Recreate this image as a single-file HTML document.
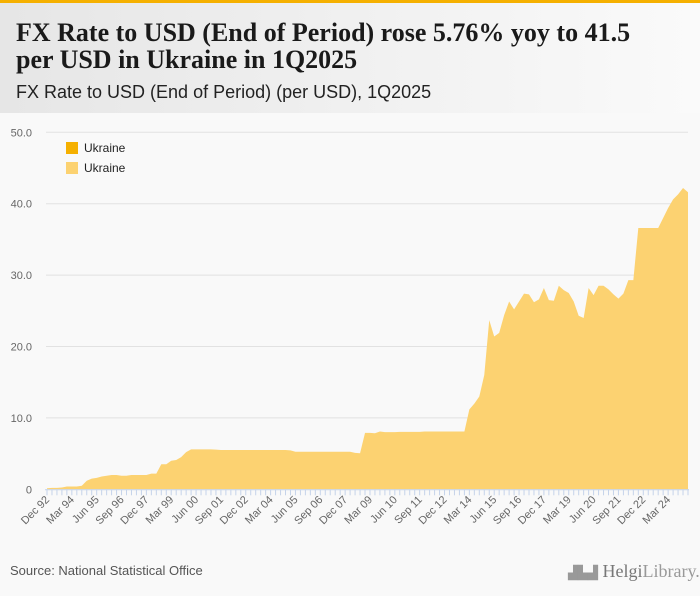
<!DOCTYPE html>
<html><head><meta charset="utf-8"><style>
body{margin:0;width:700px;height:596px;overflow:hidden;background:#f9f9f9;font-family:"Liberation Sans",sans-serif;}
#hdr{position:absolute;left:0;top:0;width:700px;height:113px;background:linear-gradient(90deg,#e6e6e6,#fafafa);border-top:3px solid #f5b000;box-sizing:border-box;}
#title{position:absolute;left:16px;top:16px;font-family:"Liberation Serif",serif;font-weight:bold;font-size:26px;line-height:27px;color:#1a1a1a;white-space:nowrap;}
#sub{position:absolute;left:16px;top:79px;font-size:18px;color:#222;white-space:nowrap;}
#src{position:absolute;left:10px;top:563px;font-size:13px;color:#555;}
#logo{position:absolute;left:568px;top:561px;font-family:"Liberation Serif",serif;font-size:18px;color:#999;white-space:nowrap;}
</style></head><body>
<div id="hdr">
<div id="title">FX Rate to USD (End of Period) rose 5.76% yoy to 41.5<br>per USD in Ukraine in 1Q2025</div>
<div id="sub">FX Rate to USD (End of Period) (per USD), 1Q2025</div>
</div>
<svg id="chart" width="700" height="596" style="position:absolute;left:0;top:0"></svg>
<div id="src">Source: National Statistical Office</div>
<div id="logo"><span style="font-size:13px;font-family:'DejaVu Sans',sans-serif">▟▙▟</span> <span style="color:#777">Helgi</span>Library.</div>
<script>
const values=[0.15,0.2,0.2,0.25,0.4,0.4,0.4,0.5,1.2,1.5,1.6,1.8,1.9,2.0,2.0,1.9,1.9,2.0,2.0,2.0,
2.0,2.2,2.2,3.5,3.5,4.0,4.1,4.5,5.2,5.6,5.6,5.6,5.6,5.6,5.55,5.5,5.5,5.5,5.5,5.5,
5.5,5.5,5.5,5.5,5.5,5.5,5.5,5.5,5.5,5.45,5.25,5.25,5.25,5.25,5.25,5.25,5.25,5.25,5.25,5.25,
5.25,5.25,5.1,5.05,7.9,7.9,7.85,8.1,8.0,8.0,8.0,8.05,8.05,8.05,8.05,8.05,8.1,8.1,8.1,8.1,
8.1,8.1,8.1,8.1,8.1,11.2,12.0,13.0,16.0,23.7,21.4,21.9,24.4,26.3,25.2,26.3,27.4,27.3,26.2,26.6,
28.2,26.5,26.4,28.5,27.9,27.5,26.3,24.3,24.0,28.2,27.2,28.5,28.5,28.0,27.3,26.7,27.4,29.3,29.3,36.6,
36.6,36.6,36.6,36.6,38.0,39.4,40.6,41.3,42.2,41.6];
const yTicks=[0,10,20,30,40,50];
const yTickLabels=["0","10.0","20.0","30.0","40.0","50.0"];
const months=["Mar","Jun","Sep","Dec"];
const NS="http://www.w3.org/2000/svg";
const svg=document.getElementById('chart');
const x0=47,x1=688,y0=489.3,y50=132.3;
const n=values.length;
const X=i=>x0+i*(x1-x0)/(n-1);
const Y=v=>y0+(y50-y0)*v/50;
function mk(t,a){const e=document.createElementNS(NS,t);for(const k in a)e.setAttribute(k,a[k]);svg.appendChild(e);return e;}
yTicks.forEach((t,k)=>{
 if(t>0){const g=mk('line',{x1:46,x2:688,y1:Y(t),y2:Y(t),stroke:'#e2e2e2','stroke-width':1});
 
 }
 const tx=mk('text',{x:32,y:Y(t)+4,'text-anchor':'end','font-size':11,fill:'#666','font-family':'Liberation Sans, sans-serif'});
 tx.textContent=yTickLabels[k];
 
 
});
let d='M'+X(0)+','+Y(0);
values.forEach((v,i)=>{d+=' L'+X(i).toFixed(2)+','+Y(v).toFixed(2);});
d+=' L'+X(n-1)+','+Y(0)+' Z';
const area=mk('path',{d:d,fill:'#fcd271'});


const ax=mk('line',{x1:45,x2:689,y1:y0+0.5,y2:y0+0.5,stroke:'#c5d3ea','stroke-width':1});


for(let i=0;i<n;i++){
 const tk=mk('line',{x1:X(i),x2:X(i),y1:y0,y2:y0+6,stroke:'#c5d3ea','stroke-width':1});
 
 
 if(i%5===0){
  const q=(3+i)%4, yr=(1992+Math.floor((i+3)/4))%100;
  const lab=months[q]+' '+String(yr).padStart(2,'0');
  const tx=mk('text',{x:X(i)+3,y:y0+11,'text-anchor':'end','font-size':11,fill:'#666','font-family':'Liberation Sans, sans-serif',transform:'rotate(-45 '+(X(i)+3)+' '+(y0+11)+')'});
  tx.textContent=lab;
  
  
 }
}
[['#f5b000',148],['#fcd271',168]].forEach((c,k)=>{
 const r=mk('rect',{x:66,y:c[1]-6,width:12,height:12,fill:c[0]});
 
 
 const t=mk('text',{x:84,y:c[1]+4,'font-size':12,fill:'#222','font-family':'Liberation Sans, sans-serif'});
 t.textContent='Ukraine';
 
 
});
</script>
</body></html>
